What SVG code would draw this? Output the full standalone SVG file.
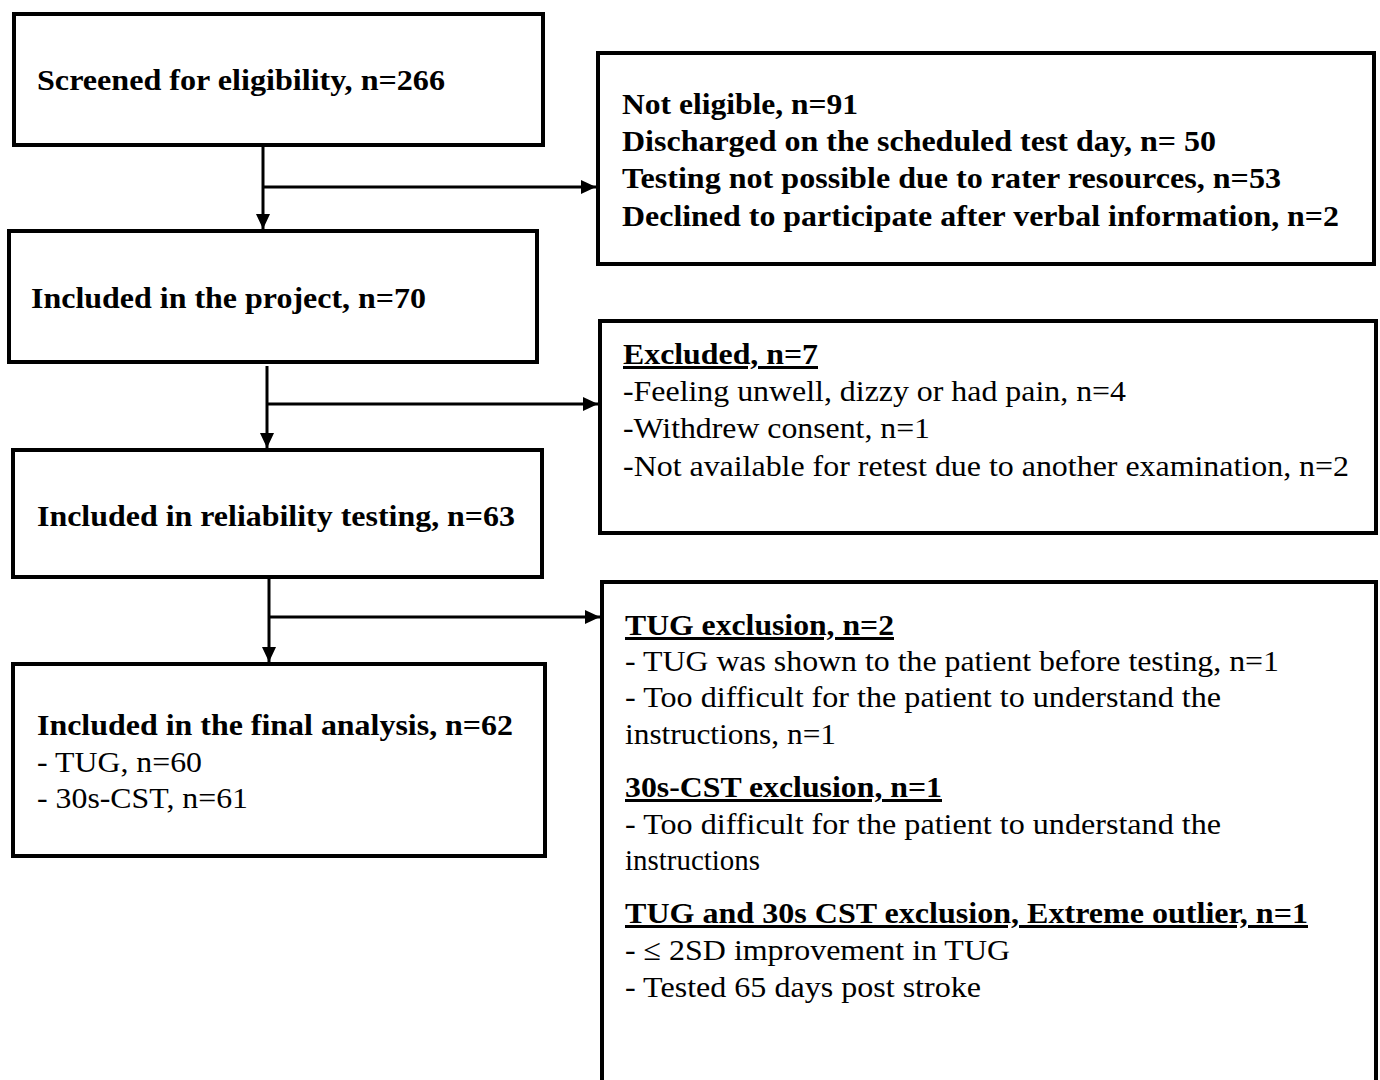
<svg xmlns="http://www.w3.org/2000/svg" width="1380" height="1080" viewBox="0 0 1380 1080">
<style>
.box{fill:#fff;stroke:#000;stroke-width:4}
.con{fill:none;stroke:#000;stroke-width:3}
text{font-family:'Liberation Serif','Times New Roman',serif;font-size:30px;fill:#000}
.b{font-weight:bold}
.u{text-decoration:underline}
</style>
<defs>
<marker id="ah" markerUnits="userSpaceOnUse" markerWidth="16" markerHeight="16" refX="15" refY="7" orient="auto">
<path d="M0,0 L15,7 L0,14 z" fill="#000"/>
</marker>
</defs>
<rect width="1380" height="1080" fill="#fff"/>
<g id="connectors">
<line class="con" x1="263" y1="147" x2="263" y2="229" marker-end="url(#ah)"/>
<line class="con" x1="263" y1="187" x2="596" y2="187" marker-end="url(#ah)"/>
<line class="con" x1="267" y1="366" x2="267" y2="448" marker-end="url(#ah)"/>
<line class="con" x1="267" y1="404" x2="598" y2="404" marker-end="url(#ah)"/>
<line class="con" x1="269" y1="579" x2="269" y2="662" marker-end="url(#ah)"/>
<line class="con" x1="269" y1="617" x2="600" y2="617" marker-end="url(#ah)"/>
</g>
<g id="screened">
<rect class="box" x="14" y="14" width="529" height="131"/>
<text class="b" x="37" y="90" textLength="408" lengthAdjust="spacingAndGlyphs">Screened for eligibility, n=266</text>
</g>
<g id="not-eligible">
<rect class="box" x="598" y="53" width="776" height="211"/>
<text class="b" x="622" y="114" textLength="236" lengthAdjust="spacingAndGlyphs">Not eligible, n=91</text>
<text class="b" x="622" y="151" textLength="594" lengthAdjust="spacingAndGlyphs">Discharged on the scheduled test day, n= 50</text>
<text class="b" x="622" y="188" textLength="659" lengthAdjust="spacingAndGlyphs">Testing not possible due to rater resources, n=53</text>
<text class="b" x="622" y="226" textLength="717" lengthAdjust="spacingAndGlyphs">Declined to participate after verbal information, n=2</text>
</g>
<g id="included-project">
<rect class="box" x="9" y="231" width="528" height="131"/>
<text class="b" x="31" y="308" textLength="395" lengthAdjust="spacingAndGlyphs">Included in the project, n=70</text>
</g>
<g id="excluded">
<rect class="box" x="600" y="321" width="776" height="212"/>
<text class="b u" x="623" y="364" textLength="195" lengthAdjust="spacingAndGlyphs">Excluded, n=7</text>
<text x="623" y="401" textLength="503" lengthAdjust="spacingAndGlyphs">-Feeling unwell, dizzy or had pain, n=4</text>
<text x="623" y="438" textLength="307" lengthAdjust="spacingAndGlyphs">-Withdrew consent, n=1</text>
<text x="623" y="476" textLength="726" lengthAdjust="spacingAndGlyphs">-Not available for retest due to another examination, n=2</text>
</g>
<g id="reliability">
<rect class="box" x="13" y="450" width="529" height="127"/>
<text class="b" x="37" y="526" textLength="478" lengthAdjust="spacingAndGlyphs">Included in reliability testing, n=63</text>
</g>
<g id="final-analysis">
<rect class="box" x="13" y="664" width="532" height="192"/>
<text class="b" x="37" y="735" textLength="476" lengthAdjust="spacingAndGlyphs">Included in the final analysis, n=62</text>
<text x="37" y="772" textLength="165" lengthAdjust="spacingAndGlyphs">- TUG, n=60</text>
<text x="37" y="808" textLength="211" lengthAdjust="spacingAndGlyphs">- 30s-CST, n=61</text>
</g>
<g id="test-exclusions">
<rect class="box" x="602" y="582" width="774" height="530"/>
<text class="b u" x="625" y="635" textLength="269" lengthAdjust="spacingAndGlyphs">TUG exclusion, n=2</text>
<text x="625" y="671" textLength="654" lengthAdjust="spacingAndGlyphs">- TUG was shown to the patient before testing, n=1</text>
<text x="625" y="707" textLength="596" lengthAdjust="spacingAndGlyphs">- Too difficult for the patient to understand the</text>
<text x="625" y="744" textLength="211" lengthAdjust="spacingAndGlyphs">instructions, n=1</text>
<text class="b u" x="625" y="797" textLength="317" lengthAdjust="spacingAndGlyphs">30s-CST exclusion, n=1</text>
<text x="625" y="834" textLength="596" lengthAdjust="spacingAndGlyphs">- Too difficult for the patient to understand the</text>
<text x="625" y="870" textLength="135" lengthAdjust="spacingAndGlyphs">instructions</text>
<text class="b u" x="625" y="923" textLength="683" lengthAdjust="spacingAndGlyphs">TUG and 30s CST exclusion, Extreme outlier, n=1</text>
<text x="625" y="960" textLength="385" lengthAdjust="spacingAndGlyphs">- ≤ 2SD improvement in TUG</text>
<text x="625" y="997" textLength="356" lengthAdjust="spacingAndGlyphs">- Tested 65 days post stroke</text>
</g>
</svg>
